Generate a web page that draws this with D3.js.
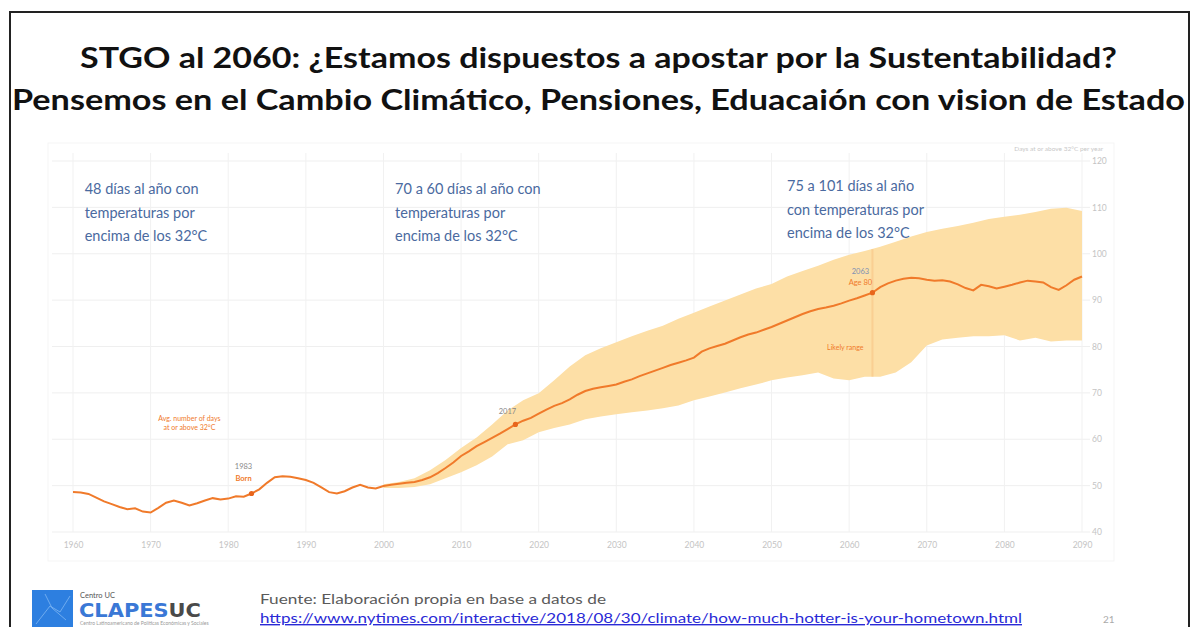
<!DOCTYPE html>
<html><head><meta charset="utf-8">
<script src="https://cdn.jsdelivr.net/npm/d3@7"></script>
<style>html,body{margin:0;padding:0;background:#fff;}svg{display:block;}</style>
</head><body>
<svg id="c" width="1201" height="627"></svg>
<script>
// ---- data ----
const years = d3.range(1960, 2091);
const median = [48.6,48.5,48.2,47.4,46.6,46.0,45.4,44.9,45.1,44.4,
44.2,45.2,46.3,46.8,46.3,45.7,46.2,46.8,47.3,47.0,
47.2,47.7,47.6,48.3,49.2,50.6,51.8,52.0,51.9,51.6,
51.2,50.6,49.6,48.6,48.3,48.8,49.6,50.2,49.6,49.4,
49.9,50.2,50.4,50.6,50.8,51.2,51.8,52.7,53.8,55.0,
56.4,57.4,58.5,59.4,60.3,61.2,62.2,63.2,64.0,64.6,
65.5,66.4,67.2,67.8,68.6,69.6,70.4,70.9,71.2,71.5,
71.8,72.4,72.9,73.6,74.2,74.8,75.4,76.0,76.5,77.0,
77.6,78.9,79.6,80.1,80.6,81.3,82.0,82.6,83.0,83.6,
84.2,84.9,85.6,86.3,87.0,87.6,88.1,88.4,88.8,89.3,
89.9,90.4,91.0,91.6,92.8,93.6,94.2,94.6,94.8,94.7,
94.4,94.2,94.3,94.0,93.4,92.6,92.1,93.3,93.0,92.5,
92.9,93.3,93.8,94.2,94.0,93.8,92.8,92.2,93.2,94.4,95.1];
const bandYears = d3.range(2000, 2091, 2);
const bandHigh = [50.3,50.8,51.6,53.3,55.5,58.1,60.4,63.2,66.2,68.4,69.9,72.7,75.7,78.1,79.6,
80.9,82.2,83.4,84.5,86.0,87.3,88.6,89.9,91.2,92.5,93.5,95.1,96.3,97.4,98.7,99.8,
100.6,101.5,102.6,103.7,104.7,105.4,106.0,106.7,107.5,108.0,108.4,109.0,109.7,109.9,109.2];
const bandLow = [49.5,49.5,49.7,50.3,51.6,52.9,54.4,56.3,58.9,59.8,61.5,62.4,63.2,64.3,64.9,
65.4,65.8,66.2,66.7,67.3,68.4,69.2,70.1,71.0,71.8,72.7,73.3,73.8,74.4,73.1,72.7,
73.5,73.5,74.4,76.6,80.2,81.5,81.9,82.2,82.2,82.4,81.3,81.9,81.1,81.3,81.3];
const xTicks = d3.range(1960, 2091, 10);
const yTicks = [40,50,60,70,80,90,100,110,120];
const markers = [{year:1983, top:"1983", bottom:"Born"},{year:2017, top:"2017", bottom:""},{year:2063, top:"2063", bottom:"Age 80"}];
const titleLines = ["STGO al 2060: ¿Estamos dispuestos a apostar por la Sustentabilidad?",
  "Pensemos en el Cambio Climático, Pensiones, Eduacaión con vision de Estado"];
const notes = [
  {year:1961.5, lines:["48 días al año con","temperaturas por","encima de los 32°C"]},
  {year:2001.5, lines:["70 a 60 días al año con","temperaturas por","encima de los 32°C"]},
  {year:2052, lines:["75 a 101 días al año","con temperaturas por","encima de los 32°C"]}
];

const svg = d3.select("#c");
// slide frame
svg.append("rect").attr("x",10).attr("y",12).attr("width",1179).attr("height",640)
  .attr("fill","none").attr("stroke","#222").attr("stroke-width",2);

// titles
const tl = [{t:titleLines[0], x:80, w:1037, y:68},{t:titleLines[1], x:12, w:1173, y:110}];
svg.selectAll("text.title").data(tl).join("text").attr("class","title")
  .attr("x",d=>d.x).attr("y",d=>d.y).attr("textLength",d=>d.w).attr("lengthAdjust","spacingAndGlyphs")
  .attr("font-family","Lato, 'Open Sans', sans-serif").attr("font-weight","bold").attr("font-size",28)
  .attr("fill","#111").text(d=>d.t);

// inset background
svg.append("rect").attr("x",48).attr("y",143).attr("width",1066).attr("height",418)
  .attr("fill","#fff").attr("stroke","#f5f5f5");

const x = d3.scaleLinear().domain([1960,2090]).range([73,1082]);
const y = d3.scaleLinear().domain([40,120]).range([532,161]);

// grid
const g = svg.append("g");
g.selectAll("line.h").data(yTicks).join("line")
  .attr("x1",52).attr("x2",1090).attr("y1",d=>y(d)).attr("y2",d=>y(d))
  .attr("stroke","#efefef").attr("stroke-width",1);
g.selectAll("line.v").data(xTicks).join("line")
  .attr("x1",d=>x(d)).attr("x2",d=>x(d)).attr("y1",y(120)-8).attr("y2",y(40))
  .attr("stroke","#f1f1f1").attr("stroke-width",1);

// axes
const xAxis = d3.axisBottom(x).tickValues(xTicks).tickFormat(d3.format("d")).tickSize(0).tickPadding(10);
const xa = svg.append("g").attr("transform",`translate(0,${y(40)})`).call(xAxis);
xa.select(".domain").remove();
xa.selectAll("text").attr("fill","#c4c4c4").attr("font-size",8.5).attr("font-family","Lato, sans-serif");
const yAxis = d3.axisRight(y).tickValues(yTicks).tickSize(0).tickPadding(0);
const ya = svg.append("g").attr("transform",`translate(1092,0)`).call(yAxis);
ya.select(".domain").remove();
ya.selectAll("text").attr("fill","#c4c4c4").attr("font-size",8.5).attr("font-family","Lato, sans-serif");
svg.append("text").attr("x",1103).attr("y",151).attr("text-anchor","end")
  .attr("font-size",6.5).attr("fill","#c8c8c8").attr("font-family","Lato, sans-serif")
  .text("Days at or above 32°C per year");

// band
const bandData = bandYears.map((yr,i)=>({yr, lo:bandLow[i], hi:bandHigh[i]}));
svg.append("path").datum(bandData)
  .attr("d", d3.area().x(d=>x(d.yr)).y0(d=>y(d.lo)).y1(d=>y(d.hi)))
  .attr("fill","#fddfa6");
// vertical marker line at 2063
svg.append("line").attr("x1",x(2063)).attr("x2",x(2063)).attr("y1",y(101)).attr("y2",y(73.5))
  .attr("stroke","#f9c98a").attr("stroke-width",2).attr("opacity",0.7);

// median line
const lineData = years.map((yr,i)=>({yr, v:median[i]}));
svg.append("path").datum(lineData)
  .attr("d", d3.line().x(d=>x(d.yr)).y(d=>y(d.v)))
  .attr("fill","none").attr("stroke","#f07a2a").attr("stroke-width",2);

// markers
markers.forEach(m=>{
  const v = median[m.year-1960];
  svg.append("circle").attr("cx",x(m.year)).attr("cy",y(v)).attr("r",2.6).attr("fill","#e8651c");
  const lx = x(m.year) - (m.year===2063 ? 12 : 8);
  const offTop = m.year===2063 ? 19 : (m.bottom ? 25 : 10);
  const offBot = m.year===2063 ? 8 : 13;
  svg.append("text").attr("x",lx).attr("y",y(v)-offTop).attr("text-anchor","middle")
    .attr("font-size",7.5).attr("fill", m.year===2063 ? "#7d8fb3" : "#888").attr("font-family","Lato, sans-serif").text(m.top);
  if (m.bottom) svg.append("text").attr("x",lx).attr("y",y(v)-offBot).attr("text-anchor","middle")
    .attr("font-size",7.5).attr("font-weight", m.year===1983?"bold":"normal").attr("fill","#f07a2a")
    .attr("font-family","Lato, sans-serif").text(m.bottom);
});
svg.append("text").attr("x",x(1975)).attr("y",y(64)).attr("text-anchor","middle")
  .attr("font-size",7).attr("fill","#f07a2a").attr("font-family","Lato, sans-serif")
  .selectAll("tspan").data(["Avg. number of days","at or above 32°C"]).join("tspan")
  .attr("x",x(1975)).attr("dy",(d,i)=>i?9:0).text(d=>d);
svg.append("text").attr("x",x(2059.5)).attr("y",y(79.3)).attr("text-anchor","middle")
  .attr("font-size",7).attr("fill","#f07a2a").attr("font-family","Lato, sans-serif").text("Likely range");

// notes
notes.forEach((n,k)=>{
  const t = svg.append("text").attr("font-family","Lato, 'Open Sans', sans-serif").attr("font-size",14.5)
    .attr("fill","#4a6aa0");
  t.selectAll("tspan").data(n.lines).join("tspan")
    .attr("x",x(n.year)).attr("y",(d,i)=>(k===2?191:194)+i*23.5).text(d=>d);
});

// footer: logo
svg.append("rect").attr("x",32).attr("y",590).attr("width",41).attr("height",40).attr("fill","#2d7fe0");
svg.append("path").attr("d","M36,624 L50,606 L60,612 L70,596 M45,594 L52,608 L66,620")
  .attr("stroke","#7fb6f2").attr("stroke-width",0.8).attr("fill","none");
svg.append("text").attr("x",80).attr("y",598).attr("font-size",7.5).attr("fill","#555")
  .attr("font-family","Lato, sans-serif").text("Centro UC");
const lg = svg.append("text").attr("x",79).attr("y",617).attr("font-size",19).attr("font-weight","900")
  .attr("font-family","'DejaVu Sans', sans-serif").attr("textLength",122).attr("lengthAdjust","spacingAndGlyphs");
lg.append("tspan").attr("fill","#3a78d6").text("CLAPES");
lg.append("tspan").attr("fill","#4a4a4a").text("UC");
svg.append("text").attr("x",80).attr("y",625).attr("font-size",5).attr("fill","#999")
  .attr("font-family","Lato, sans-serif").text("Centro Latinoamericano de Políticas Económicas y Sociales");

svg.append("text").attr("x",260).attr("y",604).attr("font-size",14).attr("fill","#5a5a5a")
  .attr("font-family","Lato, sans-serif").attr("textLength",346).attr("lengthAdjust","spacingAndGlyphs")
  .text("Fuente: Elaboración propia en base a datos de");
svg.append("text").attr("x",260).attr("y",623).attr("font-size",14).attr("fill","#2a2ad6")
  .attr("text-decoration","underline")
  .attr("font-family","Lato, sans-serif").attr("textLength",762).attr("lengthAdjust","spacingAndGlyphs")
  .text("https://www.nytimes.com/interactive/2018/08/30/climate/how-much-hotter-is-your-hometown.html");
svg.append("text").attr("x",1103).attr("y",623).attr("font-size",10).attr("fill","#aaa")
  .attr("font-family","Lato, sans-serif").text("21");
</script>
</body></html>
